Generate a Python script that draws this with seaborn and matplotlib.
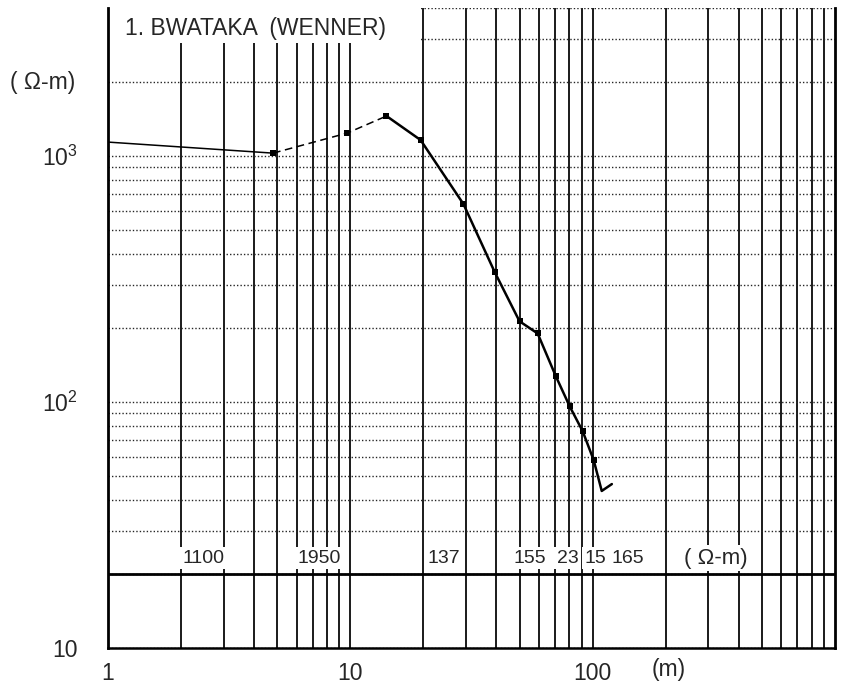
import seaborn as sns
import matplotlib.pyplot as plt
import matplotlib.ticker as mticker
from matplotlib.patches import Rectangle
import pandas as pd

# Wenner sounding curve
spacing_m = [1, 4.8, 9.7, 14.1, 19.5, 29.3, 39.4, 49.9, 59.3, 70.3, 80.4, 91, 101, 109, 120]
app_rho = [1140, 1028, 1240, 1455, 1162, 638, 338, 213, 190, 128, 96, 76, 58, 43.5, 46.4]

# interpreted layer resistivities (ohm-m) written along the model line
layer_rho = ["1100", "1950", "137", "155", "23", "15", "165"]
layer_label_x = [2.47, 7.45, 24.4, 55, 78.8, 103, 140]
model_line_rho = 20

x_ticks = [1, 10, 100]
x_tick_labels = ["1", "10", "100"]
y_ticks = [10, 100, 1000]
y_tick_labels = ["10", r"$\mathregular{10^2}$", r"$\mathregular{10^3}$"]


def create_chart():
    sns.set_style("white")
    plt.rcParams["font.family"] = ["Liberation Sans", "DejaVu Sans"]
    plt.rcParams["mathtext.fontset"] = "custom"
    plt.rcParams["mathtext.rm"] = "Liberation Sans"

    df = pd.DataFrame({"a": spacing_m, "rho": app_rho})

    fig = plt.figure(figsize=(8.41, 6.88), dpi=100)
    ax = fig.add_axes([108 / 841, 40 / 688, 727 / 841, 640 / 688])
    ax.set_xscale("log")
    ax.set_yscale("log")
    ax.set_xlim(1, 1000)
    ax.set_ylim(10, 4000)

    # grid: solid verticals, dotted horizontals
    ax.xaxis.set_minor_locator(mticker.LogLocator(base=10, subs=range(2, 10)))
    ax.yaxis.set_minor_locator(mticker.LogLocator(base=10, subs=range(2, 10)))
    ax.xaxis.set_minor_formatter(mticker.NullFormatter())
    ax.yaxis.set_minor_formatter(mticker.NullFormatter())
    ax.grid(True, axis="x", which="both", color="0.1", lw=1.4, ls="-")
    ax.grid(True, axis="y", which="both", color="0.15", lw=1.0, ls=(0, (1, 1.5)))

    # curve: thin solid start, dashed middle, solid tail
    sns.lineplot(data=df.iloc[0:2], x="a", y="rho", sort=False, ax=ax,
                 color="black", lw=1.1, zorder=4)
    sns.lineplot(data=df.iloc[1:4], x="a", y="rho", sort=False, ax=ax,
                 color="black", lw=1.1, ls=(0, (5, 3)), zorder=4)
    sns.lineplot(data=df.iloc[3:], x="a", y="rho", sort=False, ax=ax,
                 color="black", lw=1.8, zorder=4)
    sns.scatterplot(data=df.iloc[1:13], x="a", y="rho", ax=ax, color="black",
                    s=20, marker="s", linewidth=0, zorder=5)

    # model line with layer resistivities
    ax.axhline(model_line_rho, color="black", lw=2.0, zorder=4)
    for xv, lab in zip(layer_label_x, layer_rho):
        ax.text(xv, 23.2, lab, ha="center", va="center", fontsize=14,
                bbox=dict(facecolor="white", edgecolor="none", pad=2.0), zorder=3)
    ax.text(322, 23.2, "( Ω-m)", ha="center", va="center", fontsize=16,
            bbox=dict(facecolor="white", edgecolor="none", pad=2.0), zorder=3)

    # title area blanks out the grid
    ax.add_patch(Rectangle((0, (648 - 43) / 640), (420 - 108) / 727, 1,
                           transform=ax.transAxes, facecolor="white",
                           edgecolor="none", zorder=2, clip_on=False))
    ax.text((125 - 108) / 727, (648 - 29) / 640, "1. BWATAKA  (WENNER)",
            transform=ax.transAxes, ha="left", va="center", fontsize=16.5, zorder=3)

    ax.set_xticks(x_ticks)
    ax.set_xticklabels(x_tick_labels)
    ax.set_yticks(y_ticks)
    ax.set_yticklabels(y_tick_labels)
    ax.tick_params(axis="both", which="both", length=0, labelsize=16.5)
    ax.tick_params(axis="x", pad=10)
    ax.tick_params(axis="y", pad=22)
    ax.set_xlabel("")
    ax.set_ylabel("")

    ax.text(206, -0.034, "(m)", transform=ax.get_xaxis_transform(),
            ha="center", va="center", fontsize=16.5)
    fig.text(43 / 841, 1 - 82 / 688, "( Ω-m)", ha="center", va="center", fontsize=16.5)

    for side in ["left", "right", "bottom"]:
        ax.spines[side].set_color("black")
        ax.spines[side].set_zorder(6)
    ax.spines["left"].set_linewidth(2.0)
    ax.spines["right"].set_linewidth(2.0)
    ax.spines["bottom"].set_linewidth(1.8)
    ax.spines["top"].set_visible(False)

    fig.savefig("out.png", dpi=100)
    plt.close(fig)


if __name__ == "__main__":
    create_chart()
